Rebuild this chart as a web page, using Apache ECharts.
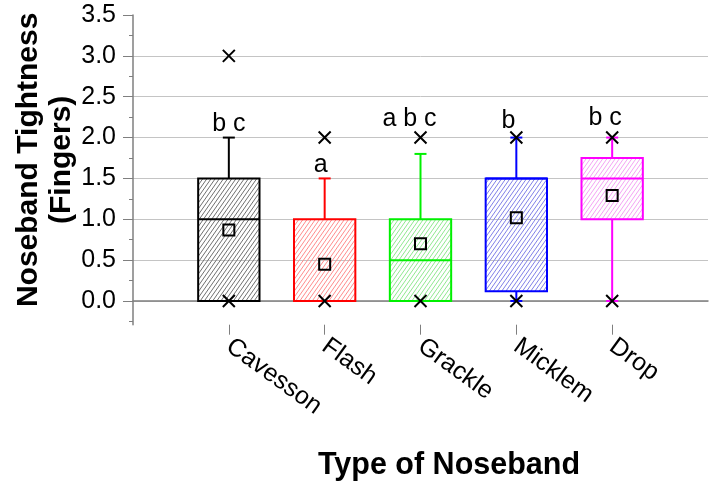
<!DOCTYPE html>
<html><head><meta charset="utf-8">
<script src="https://cdn.jsdelivr.net/npm/echarts@6/dist/echarts.min.js"></script>
<style>html,body{margin:0;padding:0;background:#fff}#c{width:714px;height:487px}</style>
</head><body><div id="c"></div>
<script>
// ---- data ----
const categories = ['Cavesson', 'Flash', 'Grackle', 'Micklem', 'Drop'];
const whiskerLow  = [0, 0, 0, 0, 0];
const q1          = [0, 0, 0, 0.12, 1.0];
const median      = [1.0, 0, 0.5, 1.5, 1.5];
const q3          = [1.5, 1.0, 1.0, 1.5, 1.75];
const whiskerHigh = [2.0, 1.5, 1.8, 2.0, 2.0];
const means       = [0.87, 0.45, 0.70, 1.02, 1.29];
const minimums    = [0, 0, 0, 0, 0];
const maximums    = [3.0, 2.0, 2.0, 2.0, 2.0];
const letters     = ['b c', 'a', 'a b c', 'b', 'b c'];
const letterY     = [2.17, 1.66, 2.22, 2.20, 2.24];

// ---- style ----
const boxColors   = ['#000000', '#ff0000', '#00f000', '#0000ff', '#ff00ff'];
const hatchColors = ['#707070', '#ff8c8c', '#90e890', '#8080e8', '#f4a4f4'];
const letterNudge = [0, -4, -11, -8, -7];
const FONT = '"Liberation Sans", Arial, sans-serif';
const AXIS_GRAY = '#7f7f7f';

// plot frame (pixels)
const PL = 133, PR = 6, PT = 15, PB = 162.3;
const slot = (714 - PL - PR) / (categories.length + 1);

// diagonal hatch path inside a rectangle (screen coords)
function hatchPath(x0, y0, x1, y1) {
  const a = 55 * Math.PI / 180, sa = Math.sin(a), ca = Math.cos(a);
  const gap = 3.4;
  const cs = [x0 * sa + y0 * ca, x1 * sa + y0 * ca, x0 * sa + y1 * ca, x1 * sa + y1 * ca];
  const cmin = Math.min.apply(null, cs), cmax = Math.max.apply(null, cs);
  let d = '';
  for (let c = Math.ceil(cmin / gap) * gap; c <= cmax; c += gap) {
    const pts = [];
    let y = (c - x0 * sa) / ca; if (y >= y0 && y <= y1) pts.push([x0, y]);
    y = (c - x1 * sa) / ca; if (y >= y0 && y <= y1) pts.push([x1, y]);
    let x = (c - y0 * ca) / sa; if (x > x0 && x < x1) pts.push([x, y0]);
    x = (c - y1 * ca) / sa; if (x > x0 && x < x1) pts.push([x, y1]);
    if (pts.length >= 2) {
      d += 'M' + pts[0][0].toFixed(2) + ',' + pts[0][1].toFixed(2) + 'L' + pts[1][0].toFixed(2) + ',' + pts[1][1].toFixed(2);
    }
  }
  return d;
}

const xData = [''].concat(categories, ['']);
const boxData = categories.map((c, i) => [i + 1, whiskerLow[i], q1[i], median[i], q3[i], whiskerHigh[i]]);
const meanData = means.map((m, i) => [i + 1, m]);
const extremeData = [];
categories.forEach((c, i) => { extremeData.push([i + 1, minimums[i]]); extremeData.push([i + 1, maximums[i]]); });
const letterData = letters.map((t, i) => [i + 1, letterY[i]]);

const chart = echarts.init(document.getElementById('c'));
chart.setOption({
  animation: false,
  backgroundColor: '#ffffff',
  title: {
    text: 'Type of Noseband', left: 449, top: 450, textAlign: 'center', padding: 0,
    textStyle: { fontSize: 30.5, fontWeight: 'bold', color: '#000', fontFamily: FONT }
  },
  grid: [
    { left: PL, right: PR, top: PT, bottom: PB },            // main plot, y from -0.29 to 3.5
    { left: PL, right: PR, top: PT, bottom: 165.6 },         // minor ticks, y from -0.25 to 3.5
    { left: PL, right: PR, top: PT, bottom: 186 },           // labelled ticks, y from 0 to 3.5
    { left: PL + slot, right: PR + slot, top: PT, bottom: PB } // category ticks
  ],
  xAxis: [
    {
      type: 'category', gridIndex: 0, data: xData, boundaryGap: false,
      axisLine: { lineStyle: { color: AXIS_GRAY, width: 1.5 } },
      axisTick: { show: false },
      axisLabel: { interval: 0, rotate: -36, fontSize: 25, color: '#000', margin: 19, fontFamily: FONT },
      splitLine: { show: false }
    },
    { type: 'value', gridIndex: 1, min: 0, max: 1, show: false },
    { type: 'value', gridIndex: 2, min: 0, max: 1, show: false },
    {
      type: 'value', gridIndex: 3, min: 1, max: categories.length, interval: 1,
      axisLine: { show: false },
      axisTick: { show: true, length: 10, lineStyle: { color: AXIS_GRAY, width: 1 } },
      axisLabel: { show: false },
      splitLine: { show: false }
    }
  ],
  yAxis: [
    {
      type: 'value', gridIndex: 0, min: -0.29, max: 3.5,
      name: 'Noseband Tightness\n(Fingers)', nameLocation: 'middle', nameRotate: 90, nameGap: 55,
      nameTextStyle: { fontSize: 30, fontWeight: 'bold', color: '#000', fontFamily: FONT, lineHeight: 33, padding: [0, 0, 0, 20] },
      axisLine: { show: true, lineStyle: { color: AXIS_GRAY, width: 1.5 } },
      axisTick: { show: false },
      axisLabel: { show: false },
      splitLine: { show: false }
    },
    {
      type: 'value', gridIndex: 1, min: -0.25, max: 3.5, interval: 0.25,
      axisLine: { show: false },
      axisTick: { show: true, length: 4, lineStyle: { color: AXIS_GRAY, width: 1 } },
      axisLabel: { show: false },
      splitLine: { show: false }
    },
    {
      type: 'value', gridIndex: 2, min: 0, max: 3.5, interval: 0.5,
      axisLine: { show: false },
      axisTick: { show: true, length: 10, lineStyle: { color: AXIS_GRAY, width: 1 } },
      axisLabel: { fontSize: 25, color: '#000', margin: 17, fontFamily: FONT, formatter: (v) => v.toFixed(1) },
      splitLine: { show: true, showMaxLine: false, lineStyle: { color: '#c4c4c4', width: 1 } }
    },
    { type: 'value', gridIndex: 3, min: 0, max: 1, show: false }
  ],
  series: [
    {
      type: 'custom', xAxisIndex: 0, yAxisIndex: 0, data: boxData, z: 2,
      encode: { x: 0, y: [1, 2, 3, 4, 5] },
      renderItem: function (params, api) {
        const i = params.dataIndex;
        const xv = api.value(0);
        const cx = api.coord([xv, 0])[0];
        const py = (v) => api.coord([xv, v])[1];
        const bw = api.size([1, 0])[0] * 0.64;
        const yLow = py(api.value(1)), yQ1 = py(api.value(2)), yMed = py(api.value(3)),
              yQ3 = py(api.value(4)), yHigh = py(api.value(5));
        const col = boxColors[i];
        const st = { stroke: col, lineWidth: 2, fill: null };
        const cap = 6;
        return {
          type: 'group', children: [
            { type: 'path', shape: { pathData: hatchPath(cx - bw / 2, yQ3, cx + bw / 2, yQ1) },
              style: { stroke: hatchColors[i], lineWidth: 1, fill: null } },
            { type: 'line', shape: { x1: cx, y1: yQ3, x2: cx, y2: yHigh }, style: st },
            { type: 'line', shape: { x1: cx, y1: yQ1, x2: cx, y2: yLow }, style: st },
            { type: 'line', shape: { x1: cx - cap, y1: yHigh, x2: cx + cap, y2: yHigh }, style: st },
            { type: 'line', shape: { x1: cx - cap, y1: yLow, x2: cx + cap, y2: yLow }, style: st },
            { type: 'rect', shape: { x: cx - bw / 2, y: yQ3, width: bw, height: yQ1 - yQ3 },
              style: { fill: null, stroke: col, lineWidth: 2 } },
            { type: 'line', shape: { x1: cx - bw / 2, y1: yMed, x2: cx + bw / 2, y2: yMed }, style: st }
          ]
        };
      }
    },
    {
      type: 'scatter', xAxisIndex: 0, yAxisIndex: 0, data: meanData, z: 5,
      symbol: 'rect', symbolSize: 11,
      itemStyle: { color: 'rgba(0,0,0,0)', borderColor: '#000', borderWidth: 2, opacity: 1 }
    },
    {
      type: 'scatter', xAxisIndex: 0, yAxisIndex: 0, data: extremeData, z: 6,
      symbol: 'path://M0,0L10,10M10,0L0,10', symbolSize: 12,
      itemStyle: { color: 'rgba(0,0,0,0)', borderColor: '#000', borderWidth: 2, opacity: 1 }
    },
    {
      type: 'custom', xAxisIndex: 0, yAxisIndex: 0, data: letterData, z: 7,
      encode: { x: 0, y: 1 },
      renderItem: function (params, api) {
        const i = params.dataIndex;
        const pt = api.coord([api.value(0), api.value(1)]);
        return {
          type: 'text', x: pt[0] + letterNudge[i], y: pt[1],
          style: { text: letters[i], fill: '#000', fontSize: 25, fontFamily: FONT, align: 'center', verticalAlign: 'middle' }
        };
      }
    }
  ]
});
</script>
</body></html>
